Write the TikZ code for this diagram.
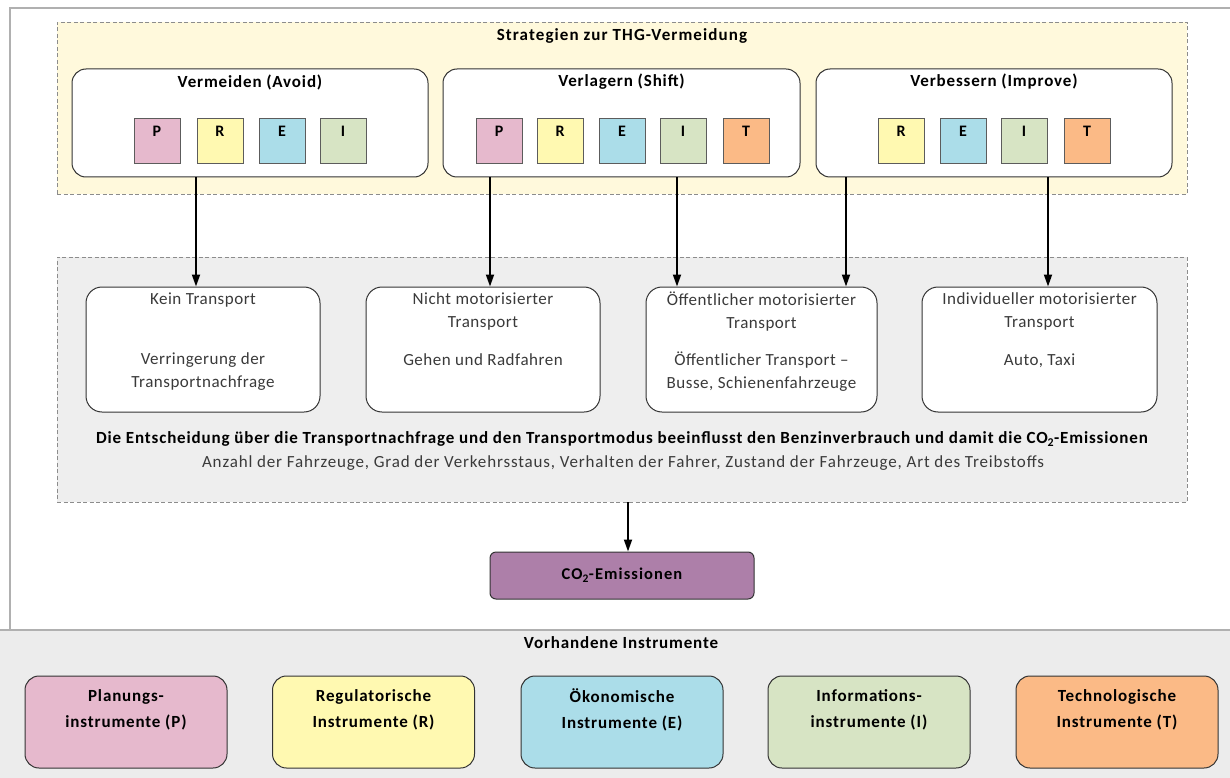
\documentclass[tikz,border=0pt]{standalone}
\usepackage{fontspec}
\setmainfont{Carlito}
\newfontfamily\spacedA[LetterSpace=5]{Carlito}
\newfontfamily\spacedB[LetterSpace=3]{Carlito}
\newfontfamily\spacedC[LetterSpace=6.5]{Carlito}
\usetikzlibrary{arrows.meta}
\definecolor{frameG}{HTML}{B0B0B0}
\definecolor{stratBg}{HTML}{FFF9DC}
\definecolor{modeBg}{HTML}{EEEEEE}
\definecolor{bandBg}{HTML}{ECECEC}
\definecolor{boxLine}{HTML}{333333}
\definecolor{dashLine}{HTML}{8C8C8C}
\definecolor{txtGray}{HTML}{3A3A3A}
\definecolor{cP}{HTML}{E6B9CD}
\definecolor{cR}{HTML}{FFF9B1}
\definecolor{cE}{HTML}{ABDDE9}
\definecolor{cI}{HTML}{D7E4C4}
\definecolor{cT}{HTML}{FBBA86}
\definecolor{cCO}{HTML}{AD7FA9}
\begin{document}
\begin{tikzpicture}[x=1pt,y=-1pt,
  region/.style={draw=dashLine, dashed, line width=0.9pt, dash pattern=on 4pt off 2.5pt},
  stratbox/.style={draw=boxLine, fill=white, line width=1pt, rounded corners=14pt, inner sep=0pt},
  rtitle/.style={font=\spacedC\bfseries\fontsize{17}{20}\selectfont, inner sep=0pt},
  stitle/.style={font=\spacedA\bfseries\fontsize{17}{20}\selectfont, inner sep=0pt},
  sq/.style={draw=boxLine!80, line width=0.9pt, minimum width=46pt, inner sep=0pt,
    text height=19pt, text depth=26pt, font=\bfseries\fontsize{16}{18}\selectfont},
  modebox/.style={draw=boxLine, fill=white, line width=1pt, rounded corners=16pt,
    minimum width=234pt, minimum height=125pt, inner sep=0pt},
  modetext/.style={align=center, text=txtGray, font=\spacedB\fontsize{17}{23}\selectfont, inner sep=0pt},
  instbox/.style={draw=boxLine, line width=1pt, rounded corners=14pt,
    minimum width=202pt, minimum height=92pt, inner sep=0pt},
  insttext/.style={align=center, font=\spacedA\bfseries\fontsize{17}{26}\selectfont, inner sep=0pt},
  arr/.style={line width=1.8pt, -{Triangle[length=12pt,width=8pt]}}
]
\useasboundingbox (0,0) rectangle (1230,778);
\fill[white] (0,0) rectangle (1230,778);

% page frame and bottom band
\draw[frameG, line width=1.6pt] (10,630) -- (10,8) -- (1230,8);
\fill[bandBg] (0,630) rectangle (1230,778);
\draw[frameG, line width=1.6pt] (0,630) -- (1230,630);

% strategy region
\node[region, fill=stratBg, minimum width=1130pt, minimum height=172pt, inner sep=0pt] (strat) at (622,108) {};
\node[rtitle] (strattitle) at (622,36) {Strategien zur THG-Vermeidung};

\node[stratbox, minimum width=356pt, minimum height=108pt] (avoid) at (250,123) {};
\node[stratbox, minimum width=357pt, minimum height=108pt] (shift) at (621.5,123) {};
\node[stratbox, minimum width=356pt, minimum height=108pt] (improve) at (994,123) {};
\node[stitle] (avoidT) at (250,82) {Vermeiden (Avoid)};
\node[stitle] (shiftT) at (621.5,82) {Verlagern (Shift)};
\node[stitle] (improveT) at (994,82) {Verbessern (Improve)};

% instrument letters per strategy
\node[sq, fill=cP] (aP) at (157,140.5) {P};
\node[sq, fill=cR] (aR) at (220,140.5) {R};
\node[sq, fill=cE] (aE) at (282,140.5) {E};
\node[sq, fill=cI] (aI) at (343,140.5) {I};

\node[sq, fill=cP] (sP) at (499,140.5) {P};
\node[sq, fill=cR] (sR) at (560,140.5) {R};
\node[sq, fill=cE] (sE) at (622,140.5) {E};
\node[sq, fill=cI] (sI) at (683,140.5) {I};
\node[sq, fill=cT] (sT) at (746,140.5) {T};

\node[sq, fill=cR] (iR) at (901,140.5) {R};
\node[sq, fill=cE] (iE) at (963,140.5) {E};
\node[sq, fill=cI] (iI) at (1024,140.5) {I};
\node[sq, fill=cT] (iT) at (1087,140.5) {T};

% transport mode region
\node[region, fill=modeBg, minimum width=1130pt, minimum height=245pt, inner sep=0pt] (modes) at (622,379.5) {};

\node[modebox] (kein) at (203,349.5) {};
\node[modebox] (nicht) at (483,349.5) {};
\node[modebox, minimum width=231pt] (oeff) at (761.5,349.5) {};
\node[modebox, minimum width=235pt] (indiv) at (1039.5,349.5) {};

\node[modetext] (keinA) at (203,300) {Kein Transport};
\node[modetext] (keinB) at (203,372) {Verringerung der\\Transportnachfrage};
\node[modetext] (nichtA) at (483,311.5) {Nicht motorisierter\\Transport};
\node[modetext] (nichtB) at (483,360) {Gehen und Radfahren};
\node[modetext] (oeffA) at (761.5,311.5) {Öffentlicher motorisierter\\Transport};
\node[modetext] (oeffB) at (761.5,372) {Öffentlicher Transport –\\Busse, Schienenfahrzeuge};
\node[modetext] (indivA) at (1039.5,311.5) {Individueller motorisierter\\Transport};
\node[modetext] (indivB) at (1039.5,361) {Auto, Taxi};

\node[font=\spacedA\bfseries\fontsize{17}{20}\selectfont, inner sep=0pt] (decision) at (622,439)
  {Die Entscheidung über die Transportnachfrage und den Transportmodus beeinflusst den Benzinverbrauch und damit die CO\textsubscript{2}-Emissionen};
\node[text=txtGray, font=\spacedA\fontsize{17}{20}\selectfont, inner sep=0pt] (factors) at (623,463)
  {Anzahl der Fahrzeuge, Grad der Verkehrsstaus, Verhalten der Fahrer, Zustand der Fahrzeuge, Art des Treibstoffs};

% emissions
\node[draw=boxLine, fill=cCO, line width=1pt, rounded corners=6pt, minimum width=264pt,
  minimum height=47pt, font=\spacedC\bfseries\fontsize{16.5}{18}\selectfont] (co2) at (622,575.5) {CO\textsubscript{2}-Emissionen};

% connectors
\coordinate (x1) at (196,0);
\coordinate (x2) at (490,0);
\coordinate (x3) at (677,0);
\coordinate (x4) at (846,0);
\coordinate (x5) at (1048,0);
\coordinate (x6) at (628,0);
\draw[arr] (avoid.south -| x1) -- (kein.north -| x1);
\draw[arr] (shift.south -| x2) -- (nicht.north -| x2);
\draw[arr] (shift.south -| x3) -- (oeff.north -| x3);
\draw[arr] (improve.south -| x4) -- (oeff.north -| x4);
\draw[arr] (improve.south -| x5) -- (indiv.north -| x5);
\draw[arr] (modes.south -| x6) -- (co2.north -| x6);

% available instruments
\node[font=\spacedA\bfseries\fontsize{17}{20}\selectfont, inner sep=0pt] (insttitle) at (621,643) {Vorhandene Instrumente};
\node[instbox, fill=cP] (pInst) at (126,722) {};
\node[instbox, fill=cR] (rInst) at (373.5,722) {};
\node[instbox, fill=cE] (eInst) at (622,722) {};
\node[instbox, fill=cI] (iInst) at (869,722) {};
\node[instbox, fill=cT] (tInst) at (1117,722) {};
\node[insttext] (pTxt) at (126,710) {Planungs-\\instrumente (P)};
\node[insttext] (rTxt) at (373.5,710) {Regulatorische\\Instrumente (R)};
\node[insttext] (eTxt) at (622,710) {Ökonomische\\Instrumente (E)};
\node[insttext] (iTxt) at (869,710) {Informations-\\instrumente (I)};
\node[insttext] (tTxt) at (1117,710) {Technologische\\Instrumente (T)};
\end{tikzpicture}
\end{document}
